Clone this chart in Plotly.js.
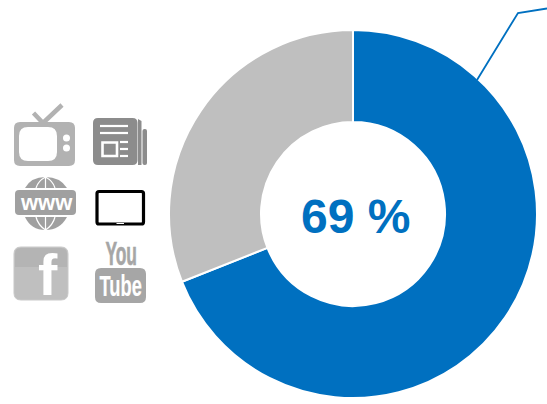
<!DOCTYPE html>
<html><head><meta charset="utf-8">
<script src="https://cdn.plot.ly/plotly-3.0.1.min.js"></script>
<style>html,body{margin:0;padding:0;background:#fff}</style></head>
<body><div id="c" style="width:547px;height:404px"></div>
<script>
const categories = ["Yes", "No"];
const seriesValues = [69, 31];
const sliceColors = ["#0070C0", "#BFBFBF"];
const centerLabel = "69 %";
const W = 547, H = 404;
const px = x => x / W, py = y => 1 - y / H;
function P(d) {
  let i = 0;
  return d.replace(/-?\d+(\.\d+)?/g, n => { const v = +n; const r = (i++ % 2 === 0) ? px(v) : py(v); return r.toFixed(5); });
}
function rr(x0, y0, x1, y1, r) {
  return `M${x0+r},${y0} L${x1-r},${y0} Q${x1},${y0} ${x1},${y0+r} L${x1},${y1-r} Q${x1},${y1} ${x1-r},${y1} L${x0+r},${y1} Q${x0},${y1} ${x0},${y1-r} L${x0},${y0+r} Q${x0},${y0} ${x0+r},${y0} Z`;
}
const S = (d, fill, lineC, lineW) => ({type:"path", xref:"paper", yref:"paper", path:P(d),
  fillcolor: fill || "rgba(0,0,0,0)", line:{color: lineC || "rgba(0,0,0,0)", width: lineW || 0}, layer:"above"});
const circ = (cx, cy, r) => `M${cx-r},${cy} Q${cx-r},${cy-r} ${cx},${cy-r} Q${cx+r},${cy-r} ${cx+r},${cy} Q${cx+r},${cy+r} ${cx},${cy+r} Q${cx-r},${cy+r} ${cx-r},${cy} Z`;
const TV="#B2B2B2", NP="#8C8C8C", GL="#A0A0A0", YT="#A6A6A6";
const shapes = [
  S("M477,80 L518,13 L547,8.5", null, "#0070C0", 1.8),
  // tv
  S("M33.5,113 L43,123 L62,105", null, TV, 4.5),
  S(rr(14,122,75,166,6), TV),
  S(rr(19,127,57,161,9), "#fff"),
  S(circ(66.5,138,3.5), "#fff"),
  S(circ(66.5,148,3.5), "#fff"),
  // newspaper
  S(rr(93,118,137.5,165,5), NP),
  S("M138,119 L141.5,121 L141.5,165 L138,165 Z", NP),
  S(rr(142.5,129,147,165,2), NP),
  S("M100,126 L128,126", null, "#fff", 2.2),
  S("M100,133 L128,133", null, "#fff", 2.2),
  S("M102.5,142.5 L117,142.5 L117,156 L102.5,156 Z", null, "#fff", 2.6),
  S("M120,142 L128,142", null, "#fff", 2.2),
  S("M120,149 L128,149", null, "#fff", 2.2),
  S("M120,156 L128,156", null, "#fff", 2.2),
  // globe
  S("M25,188 Q31,177 45.5,177 Q60,177 67,188 Z", GL),
  S("M45.5,177 L45.5,188", null, "#fff", 1.2),
  S("M36,188 Q38,181 45.5,177 Q53,181 55,188", null, "#fff", 1.2),
  S(rr(15,190,76,215,4), GL),
  S("M25,217 L67,217 Q60,230 45.5,230 Q31,230 25,217 Z", GL),
  S("M45.5,217 L45.5,230", null, "#fff", 1.2),
  S("M36,217 Q38,225 45.5,230 Q53,225 55,217", null, "#fff", 1.2),
  // tablet
  S(rr(97,191.5,143.5,224,2), "#fff", "#000", 3.2),
  S("M116.5,223.5 L124,223.5", null, "#fff", 1),
  // facebook
  S(rr(14,247,68,300,7), "#BFBFBF", "#C8C8C8", 1),
  S("M15,267 L15,254 Q15,248 21,248 L61,248 Q67,248 67,254 L67,267 Z", "#B4B4B4"),
  // youtube
  S(rr(95,268,146,303,6), YT)
];
const ann = (x, y, text, size, color, family) => ({xref:"paper", yref:"paper", x:px(x), y:py(y), text:`<b>${text}</b>`,
  showarrow:false, xanchor:"center", yanchor:"middle", font:{size, color, family}});
const annotations = [
  ann(355.5, 216, centerLabel, 48, "#0070C0", "Liberation Sans"),
  ann(46, 202, "www", 22, "#fff", "Liberation Sans"),
  ann(48, 274, "f", 58, "#fff", "Liberation Sans"),
  ann(120.5, 253, "You", 30, YT, "Liberation Sans"),
  ann(120.5, 285.5, "Tube", 30, "#fff", "Liberation Sans")
];
// condensed, slightly taller YouTube wordmark
const squeeze = {"You": [0.58, 1.12, 0.6], "Tube": [0.61, 1, 0.2]};
Plotly.newPlot("c", [{
  type:"pie", labels:categories, values:seriesValues, hole:0.5, sort:false, direction:"clockwise", rotation:0,
  marker:{colors:sliceColors, line:{color:"#fff", width:2}}, textinfo:"none", hoverinfo:"skip", showlegend:false,
  domain:{x:[169/W, 537/W], y:[1-398/H, 1-30/H]}
}], {
  width:W, height:H, margin:{l:0,r:0,t:0,b:0,pad:0}, paper_bgcolor:"#fff", showlegend:false, shapes, annotations
}, {displayModeBar:false, staticPlot:true}).then(() => {
  document.querySelectorAll("#c .annotation text").forEach(t => {
    const k = squeeze[t.textContent.trim()];
    if (!k) return;
    const b = t.getBBox(), cx = b.x + b.width / 2, cy = b.y + b.height / 2;
    t.setAttribute("transform", `translate(${cx},${cy}) scale(${k[0]},${k[1]}) translate(${-cx},${-cy})`);
    t.style.stroke = t.style.fill;
    t.style.strokeWidth = k[2] + "px";
  });
});
</script></body></html>
